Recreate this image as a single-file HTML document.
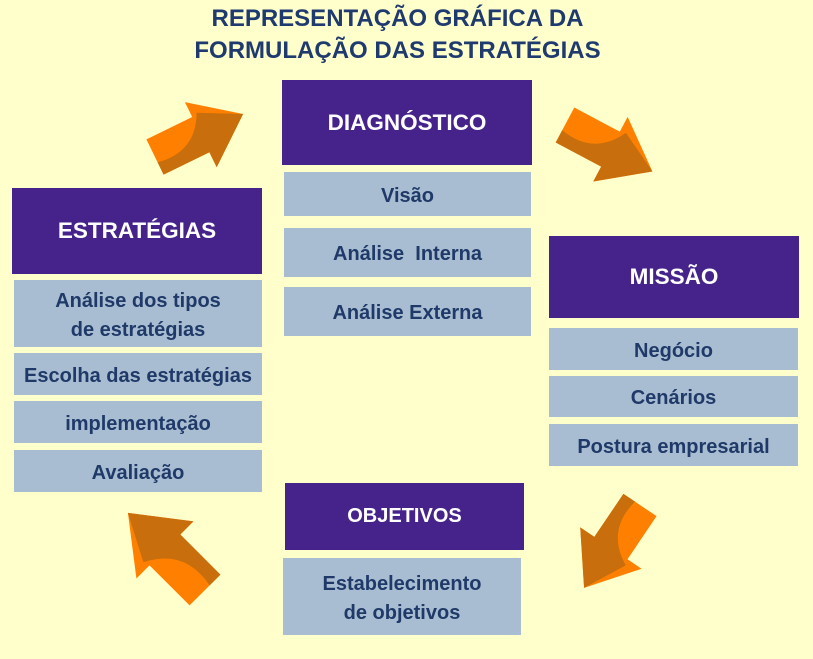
<!DOCTYPE html>
<html><head><meta charset="utf-8"><style>
body{margin:0;width:813px;height:659px;background:#FFFFCC;position:relative;overflow:hidden;font-family:"Liberation Sans",sans-serif;font-weight:bold}
.t{position:absolute;left:-9px;width:813px;text-align:center;color:#1F3A6E;font-size:24px;line-height:32px}
.h{position:absolute;background:#46238A;color:#fff;font-size:22.5px;display:flex;align-items:center;justify-content:center;text-align:center}
.s{position:absolute;background:#A9BDD2;color:#1F3A68;font-size:20px;display:flex;align-items:center;justify-content:center;text-align:center;line-height:29px;box-sizing:border-box;padding-top:4px}
svg{position:absolute;left:0;top:0}
</style></head><body>
<svg width="813" height="659">
<defs>
<g id="a">
<polygon points="0,-20 52,-20 52,-37 100,0 52,37 52,20 0,20" fill="#FF8000"/>
<path d="M0,6 Q40,14 58,-22 L100,0 L52,37 L52,20 L0,20 Z" fill="#C86E0C"/>
</g>
</defs>
<use href="#a" transform="translate(155,157) rotate(-26) scale(0.98)"/>
<use href="#a" transform="translate(565,125) rotate(28) scale(0.99)"/>
<use href="#a" transform="translate(640,505) rotate(124)"/>
<use href="#a" transform="translate(205,590) rotate(225) scale(1.09)"/>
</svg>
<div class="t" style="top:3px">REPRESENTAÇÃO GRÁFICA DA</div>
<div class="t" style="top:35px">FORMULAÇÃO DAS ESTRATÉGIAS</div>

<div class="h" style="left:282px;top:80px;width:250px;height:85px">DIAGNÓSTICO</div>
<div class="s" style="left:284px;top:172px;width:247px;height:44px">Visão</div>
<div class="s" style="left:284px;top:228px;width:247px;height:49px">Análise&nbsp; Interna</div>
<div class="s" style="left:284px;top:287px;width:247px;height:49px">Análise Externa</div>

<div class="h" style="left:12px;top:188px;width:250px;height:86px">ESTRATÉGIAS</div>
<div class="s" style="left:14px;top:280px;width:248px;height:67px">Análise dos tipos<br>de estratégias</div>
<div class="s" style="left:14px;top:353px;width:248px;height:42px">Escolha das estratégias</div>
<div class="s" style="left:14px;top:401px;width:248px;height:42px">implementação</div>
<div class="s" style="left:14px;top:450px;width:248px;height:42px">Avaliação</div>

<div class="h" style="left:549px;top:236px;width:250px;height:82px">MISSÃO</div>
<div class="s" style="left:549px;top:328px;width:249px;height:42px">Negócio</div>
<div class="s" style="left:549px;top:376px;width:249px;height:41px">Cenários</div>
<div class="s" style="left:549px;top:424px;width:249px;height:42px">Postura empresarial</div>

<div class="h" style="left:285px;top:483px;width:239px;height:67px;font-size:20px">OBJETIVOS</div>
<div class="s" style="left:283px;top:558px;width:238px;height:77px">Estabelecimento<br>de objetivos</div>
</body></html>
